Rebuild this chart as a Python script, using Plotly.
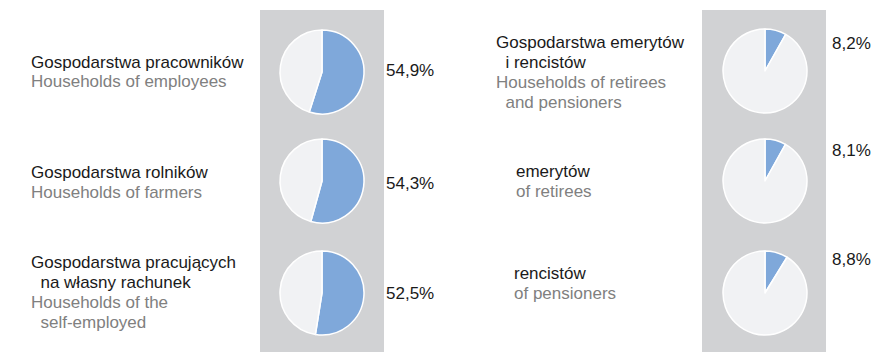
import plotly.graph_objects as go

# Share of households (%) per group
groups_pl = [
    ["Gospodarstwa pracowników"],
    ["Gospodarstwa rolników"],
    ["Gospodarstwa pracujących", "\u00a0\u00a0na własny rachunek"],
    ["Gospodarstwa emerytów", "\u00a0\u00a0i rencistów"],
    ["emerytów"],
    ["rencistów"],
]
groups_en = [
    ["Households of employees"],
    ["Households of farmers"],
    ["Households of the", "\u00a0\u00a0self-employed"],
    ["Households of retirees", "\u00a0\u00a0and pensioners"],
    ["of retirees"],
    ["of pensioners"],
]
shares = [54.9, 54.3, 52.5, 8.2, 8.1, 8.8]
share_labels = ["54,9%", "54,3%", "52,5%", "8,2%", "8,1%", "8,8%"]

# Layout (pixels)
W, H = 874, 352
R = 42
pie_cx = [322, 322, 322, 765, 765, 765]
pie_cy = [72, 181, 293, 71, 181, 293]
label_x = [29, 29, 29, 494, 514, 512]
label_cy = [72, 182, 292.5, 72.5, 181, 283]
pct_x = [384, 384, 384, 830, 830, 830]
pct_y = [70, 183, 293, 43, 150, 259]
panels = [(260, 384), (702, 826)]
LINE = 20

BLUE = "#7FA8DA"
LIGHT = "#F1F2F4"
PANEL = "#D1D2D4"
DARK = "#1A1A1A"
GREY = "#808080"
FONT = "Liberation Sans, Arial, sans-serif"


def px(x):
    return x / W


def py(y):
    return 1 - y / H


fig = go.Figure()

for i, v in enumerate(shares):
    fig.add_trace(go.Pie(
        values=[v, 100 - v],
        labels=["a", "b"],
        sort=False,
        direction="clockwise",
        rotation=0,
        textinfo="none",
        hoverinfo="skip",
        showlegend=False,
        marker=dict(colors=[BLUE, LIGHT], line=dict(color="white", width=1.5)),
        domain=dict(x=[px(pie_cx[i] - R), px(pie_cx[i] + R)],
                    y=[py(pie_cy[i] + R), py(pie_cy[i] - R)]),
    ))

shapes = [
    dict(type="rect", xref="paper", yref="paper", x0=px(a), x1=px(b),
         y0=0, y1=py(10), fillcolor=PANEL, line=dict(width=0), layer="below")
    for a, b in panels
]

annotations = []
for i in range(len(shares)):
    lines = [(t, DARK) for t in groups_pl[i]] + [(t, GREY) for t in groups_en[i]]
    n = len(lines)
    y0 = label_cy[i] - (n - 1) * LINE / 2
    for k, (t, c) in enumerate(lines):
        annotations.append(dict(
            text=t, x=px(label_x[i]), y=py(y0 + k * LINE), xref="paper", yref="paper",
            xanchor="left", yanchor="middle", showarrow=False,
            font=dict(family=FONT, size=17, color=c)))
    annotations.append(dict(
        text=share_labels[i], x=px(pct_x[i]), y=py(pct_y[i]), xref="paper", yref="paper",
        xanchor="left", yanchor="middle", showarrow=False,
        font=dict(family=FONT, size=17, color=DARK)))

fig.update_layout(
    width=W, height=H,
    margin=dict(l=0, r=0, t=0, b=0),
    paper_bgcolor="white", plot_bgcolor="white",
    shapes=shapes, annotations=annotations,
)

fig.write_html("out.html")
